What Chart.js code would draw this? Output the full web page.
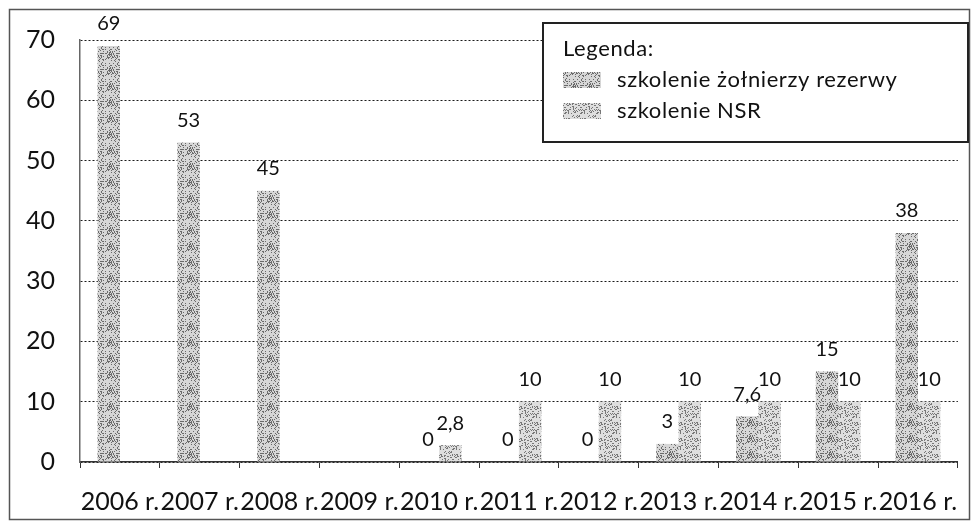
<!DOCTYPE html>
<html>
<head>
<meta charset="utf-8">
<script src="https://cdn.jsdelivr.net/npm/chart.js@4"></script>
<style>
  html, body { margin: 0; padding: 0; background: #fff; }
  #wrap { width: 977px; height: 526px; }
</style>
</head>
<body>
<div id="wrap"><canvas id="szkolChart" width="977" height="526"></canvas></div>
<script>
const years = ["2006 r.","2007 r.","2008 r.","2009 r.","2010 r.","2011 r.","2012 r.","2013 r.","2014 r.","2015 r.","2016 r."];
const reserveTraining = [69, 53, 45, null, 0, 0, 0, 3, 7.6, 15, 38];
const nsrTraining = [null, null, null, null, 2.8, 10, 10, 10, 10, 10, 10];
const seriesNames = ["szkolenie żołnierzy rezerwy", "szkolenie NSR"];
const yMax = 70;
const yStep = 10;

const FONT = "Lato, 'Open Sans', sans-serif";

// stipple texture like the scanned bars (fixed hash, no randomness)
function stipple(base, dot, mod, salt) {
  const n = 16;
  const c = document.createElement('canvas');
  c.width = n; c.height = n;
  const g = c.getContext('2d');
  g.fillStyle = base;
  g.fillRect(0, 0, n, n);
  g.fillStyle = dot;
  for (let i = 0; i < n; i++) {
    for (let j = 0; j < n; j++) {
      let h = (i * 374761393 + j * 668265263 + salt * 2246822519) >>> 0;
      h = ((h ^ (h >>> 13)) * 1274126177) >>> 0;
      h = (h ^ (h >>> 16)) >>> 0;
      if (h % mod === 0) g.fillRect(i, j, 1, 1);
    }
  }
  return g.createPattern(c, 'repeat');
}
const reservePat = stipple('#d6d6d6', '#6a6a6a', 4, 3);
const nsrPat = stipple('#dedede', '#777', 5, 7);

const fmt = v => String(v).replace('.', ',');

const valueLabels = {
  id: 'valueLabels',
  afterDatasetsDraw(chart) {
    const ctx = chart.ctx;
    ctx.save();
    ctx.font = "20px " + FONT;
    ctx.fillStyle = '#111';
    ctx.textAlign = 'center';
    ctx.textBaseline = 'middle';
    chart.data.datasets.forEach((ds, i) => {
      chart.getDatasetMeta(i).data.forEach((bar, j) => {
        const v = ds.data[j];
        if (v === null || v === undefined) return;
        ctx.fillText(fmt(v), bar.x, bar.y - 22);
      });
    });
    ctx.restore();
  }
};

const frameAndLegend = {
  id: 'frameAndLegend',
  beforeDraw(chart) {
    const ctx = chart.ctx;
    ctx.save();
    ctx.fillStyle = '#fff';
    ctx.fillRect(0, 0, chart.width, chart.height);
    ctx.strokeStyle = '#555';
    ctx.lineWidth = 1.5;
    ctx.strokeRect(9.5, 9.5, 960, 510);
    ctx.restore();
  },
  afterDraw(chart) {
    const ctx = chart.ctx;
    ctx.save();
    ctx.fillStyle = '#fff';
    ctx.fillRect(543, 23, 425, 119);
    ctx.strokeStyle = '#222';
    ctx.lineWidth = 2;
    ctx.strokeRect(543, 23, 425, 119);
    ctx.fillStyle = '#111';
    ctx.font = "22px " + FONT;
    ctx.letterSpacing = '0.6px';
    ctx.textBaseline = 'middle';
    ctx.textAlign = 'left';
    ctx.fillText("Legenda:", 563, 49);
    const pats = [reservePat, nsrPat];
    seriesNames.forEach((name, i) => {
      const y = 80 + i * 31;
      ctx.fillStyle = pats[i];
      ctx.fillRect(563, y - 8, 38, 16);
      ctx.fillStyle = '#111';
      ctx.fillText(name, 617, y);
    });
    ctx.restore();
  }
};

new Chart("szkolChart", {
  type: "bar",
  data: {
    labels: years,
    datasets: [
      { label: seriesNames[0], data: reserveTraining, backgroundColor: reservePat, borderWidth: 0 },
      { label: seriesNames[1], data: nsrTraining, backgroundColor: nsrPat, borderWidth: 0 }
    ]
  },
  options: {
    responsive: false,
    animation: false,
    devicePixelRatio: 1,
    layout: { padding: { left: 0, right: 18, top: 38, bottom: 0 } },
    datasets: { bar: { categoryPercentage: 0.56, barPercentage: 1.0 } },
    plugins: {
      legend: { display: false },
      tooltip: { enabled: false }
    },
    scales: {
      x: {
        afterFit: s => { s.height = 64; },
        grid: { display: true, drawOnChartArea: false, color: '#333', tickLength: 6, offset: true },
        border: { display: true, color: '#333', width: 1.5 },
        ticks: { color: '#111', font: { family: FONT, size: 25 }, padding: 19, maxRotation: 0, autoSkip: false }
      },
      y: {
        afterFit: s => { s.width = 80; },
        min: 0,
        max: yMax,
        ticks: { stepSize: yStep, color: '#111', font: { family: FONT, size: 25 }, padding: 25 },
        grid: { color: '#1a1a1a', lineWidth: 1, drawTicks: false, tickLength: 0 },
        border: { display: true, color: '#666', width: 1.5, dash: [2, 2] }
      }
    }
  },
  plugins: [frameAndLegend, valueLabels]
});
</script>
</body>
</html>
